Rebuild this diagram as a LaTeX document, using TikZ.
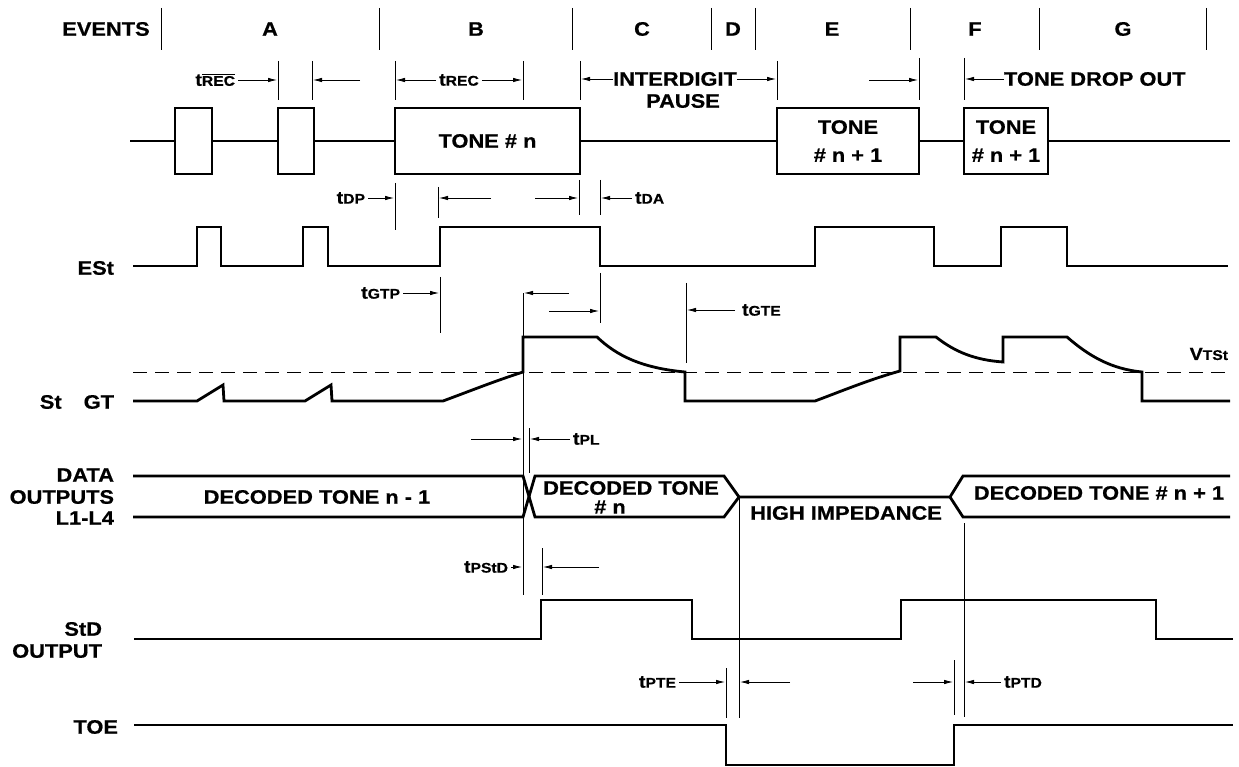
\documentclass[tikz,border=0pt]{standalone}
\usepackage{fontspec}
\newfontfamily\diag{Liberation Sans}[FakeStretch=1.12,FakeBold=0.6]
\usetikzlibrary{arrows.meta}

\begin{document}
\begin{tikzpicture}[
    x=1pt, y=-1pt,
    every node/.style={
        inner sep=0pt,
        outer sep=0pt,
    },
    big/.style={
        font=\diag\bfseries\fontsize{19.5}{24}\selectfont,
        align=center,
    },
    small/.style={
        font=\diag\bfseries\fontsize{17.5}{18}\selectfont,
        outer sep=3pt,
    },
    tonebox/.style={
        draw,
        line width=2.6pt,
        minimum height=66pt,
        big,
    },
    signal/.style={
        line width=2.8pt,
        line join=miter,
    },
    tick/.style={
        line width=0.8pt,
    },
    dim/.style={
        line width=0.8pt,
        -{Latex[length=9pt,width=4.5pt]},
    },
    level/.style={
        line width=1pt,
        dash pattern=on 14pt off 8pt,
    },
]
    \useasboundingbox (0,0) rectangle (1239,767);
    % ~~~ helpers ~~~~~~~~~~~~~~~~~~~~~~~~~~~~~~~~~~~~~~~~~~~~~~~~~
    \newcommand\tsub[1]{t{\fontsize{14}{14}\selectfont #1}}

    % ~~~ events row ~~~~~~~~~~~~~~~~~~~~~~~~~~~~~~~~~~~~~~~~~~~~~~
    \foreach \x/\t [count=\i] in {106/EVENTS,270/A,476/B,642/C,733/D,832/E,975/F,1123/G}{
        \node[big] (ev\i) at (\x,29) {\t};
    }
    \foreach \x in {161,379,572,711,755,910,1039,1206}{
        \draw[tick] (\x,8) -- (\x,50);
    }

    % ~~~ signal names ~~~~~~~~~~~~~~~~~~~~~~~~~~~~~~~~~~~~~~~~~~~~
    \foreach \y/\t [count=\i] in {268/ESt,402/St\hspace{22pt}GT,475/DATA,497/OUTPUTS,518/L1-L4}{
        \node[big,anchor=east] (name\i) at (114,\y) {\t};
    }
    \node[big,anchor=east] (std1) at (102,629) {StD};
    \node[big,anchor=east] (std2) at (102,651) {OUTPUT};
    \node[big,anchor=east] (toe)  at (118,727) {TOE};

    % ~~~ tone input ~~~~~~~~~~~~~~~~~~~~~~~~~~~~~~~~~~~~~~~~~~~~~~
    \node[tonebox,minimum width=37pt]  (ta1) at (193.5,141) {};
    \node[tonebox,minimum width=36pt]  (ta2) at (296,141) {};
    \node[tonebox,minimum width=185pt] (tn)  at (487.5,141) {TONE \# n};
    \node[tonebox,minimum width=142pt,font=\diag\bfseries\fontsize{19.5}{28}\selectfont]
        (te1) at (848,141) {TONE\\\# n + 1};
    \node[tonebox,minimum width=84pt,font=\diag\bfseries\fontsize{19.5}{28}\selectfont]
        (te2) at (1006,141) {TONE\\\# n + 1};
    \draw[signal] (130,141) -- (ta1.west) (ta1.east) -- (ta2.west)
        (ta2.east) -- (tn.west) (tn.east) -- (te1.west)
        (te1.east) -- (te2.west) (te2.east) -- (1230,141);

    % tREC / interdigit / drop out
    \foreach \x in {278,312,395,523,580,777}{
        \draw[tick] (\x,61) -- (\x,100);
    }
    \foreach \x in {919,964}{
        \draw[tick] (\x,58) -- (\x,100);
    }
    \node[small,anchor=east] (trb) at (238,80) {\tsub{$\overline{\hbox{REC}}$}};
    \draw[dim] (trb.east) -- (277,80);
    \draw[dim] (360,80) -- (313,80);
    \node[small] (trec) at (459,80) {\tsub{REC}};
    \draw[dim] (trec.west) -- (396,80);
    \draw[dim] (trec.east) -- (522,80);
    \node[big] (idp) at (675,79) {INTERDIGIT};
    \node[big] (pause) at (683,101) {PAUSE};
    \draw[dim] (idp.west) -- (581,79);
    \draw[dim] (idp.east) -- (776,79);
    \draw[dim] (869,80) -- (918,80);
    \node[big,anchor=west] (tdo) at (1004,79) {TONE DROP OUT};
    \draw[dim] (tdo.west) -- (965,79);

    % ~~~ ESt ~~~~~~~~~~~~~~~~~~~~~~~~~~~~~~~~~~~~~~~~~~~~~~~~~~~~~
    \draw[signal] (133,266)
        \foreach \a/\b in {197/221,303/328,440/600,815/934,1001/1067}{
            -- (\a,266) -- (\a,227) -- (\b,227) -- (\b,266)
        } -- (1228,266);
    \draw[tick] (395,183) -- (395,230);
    \draw[tick] (438,187) -- (438,218);
    \draw[tick] (579,180) -- (579,215);
    \draw[tick] (600,180) -- (600,215);
    \node[small,anchor=east] (tdp) at (368,198) {\tsub{DP}};
    \draw[dim] (tdp.east) -- (394,198);
    \draw[dim] (491,198) -- (439,198);
    \draw[dim] (535,198) -- (578,198);
    \node[small,anchor=west] (tda) at (632,198) {\tsub{DA}};
    \draw[dim] (tda.west) -- (601,198);

    % ~~~ St GT ~~~~~~~~~~~~~~~~~~~~~~~~~~~~~~~~~~~~~~~~~~~~~~~~~~~
    \draw[tick] (440,277) -- (440,333);
    \draw[tick] (523,293) -- (523,595);
    \draw[tick] (600,273) -- (600,323);
    \draw[tick] (686,283) -- (686,363);
    \node[small,anchor=east] (tgtp) at (403,293) {\tsub{GTP}};
    \draw[dim] (tgtp.east) -- (439,293);
    \draw[dim] (569,293) -- (524,293);
    \draw[dim] (549,311) -- (599,311);
    \node[small,anchor=west] (tgte) at (739,310) {\tsub{GTE}};
    \draw[dim] ([xshift=-4pt]tgte.west) -- (687,310);

    \draw[level] (133,372) -- (1230,372);
    \node[small,anchor=east] (vtst) at (1231,354)
        {V{\fontsize{14}{14}\selectfont TSt}};
    \draw[signal] (133,401) -- (197,401) -- (223,385) -- (224,401)
        -- (305,401) -- (331,385) -- (332,401) -- (443,401)
        .. controls (470,391) and (495,381) .. (523,372) -- (523,337)
        -- (597,337) .. controls (617,356) and (642,368) .. (685,372)
        -- (685,401) -- (815,401)
        .. controls (842,391) and (868,380) .. (900,371) -- (900,337)
        -- (936,337) .. controls (955,352) and (975,360) .. (1003,362)
        -- (1003,337) -- (1067,337)
        .. controls (1090,357) and (1112,369) .. (1142,372)
        -- (1142,401) -- (1230,401);

    % ~~~ data outputs ~~~~~~~~~~~~~~~~~~~~~~~~~~~~~~~~~~~~~~~~~~~~
    \draw[tick] (529,428) -- (529,473);
    \draw[dim] (471,439) -- (522,439);
    \node[small,anchor=west] (tpl) at (570,439) {\tsub{PL}};
    \draw[dim] (tpl.west) -- (530,439);

    \draw[signal] (133,476) -- (523,476) -- (535,517) -- (724,517) -- (739,497)
        -- (950,497) -- (963,476) -- (1230,476);
    \draw[signal] (133,517) -- (523,517) -- (535,476) -- (724,476) -- (739,497);
    \draw[signal] (950,497) -- (963,517) -- (1230,517);
    \node[big] (dtm) at (317,497) {DECODED TONE n - 1};
    \node[big] (dtn) at (631,488) {DECODED TONE};
    \node[big] (dtn2) at (610,507) {\# n};
    \node[big] (hiz) at (846,513) {HIGH IMPEDANCE};
    \node[big] (dtp) at (1099,493) {DECODED TONE \# n + 1};

    % ~~~ StD output ~~~~~~~~~~~~~~~~~~~~~~~~~~~~~~~~~~~~~~~~~~~~~~
    \draw[tick] (542,548) -- (542,595);
    \node[small,anchor=east] (tpstd) at (511,567) {\tsub{PStD}};
    \draw[dim] (tpstd.east) -- (522,567);
    \draw[dim] (599,567) -- (543,567);
    \draw[signal] (134,639)
        \foreach \a/\b in {541/692,901/1156}{
            -- (\a,639) -- (\a,600) -- (\b,600) -- (\b,639)
        } -- (1233,639);

    % ~~~ TOE ~~~~~~~~~~~~~~~~~~~~~~~~~~~~~~~~~~~~~~~~~~~~~~~~~~~~~
    \draw[tick] (739,497) -- (739,718);
    \draw[tick] (964,523) -- (964,717);
    \draw[tick] (726,668) -- (726,718);
    \draw[tick] (954,660) -- (954,715);
    \node[small,anchor=east] (tpte) at (679,682) {\tsub{PTE}};
    \draw[dim] (tpte.east) -- (725,682);
    \draw[dim] (790,682) -- (740,682);
    \draw[dim] (913,682) -- (953,682);
    \node[small,anchor=west] (tptd) at (1001,682) {\tsub{PTD}};
    \draw[dim] (tptd.west) -- (965,682);
    \draw[signal] (134,725) -- (726,725) -- (726,765) -- (954,765) -- (954,725) -- (1233,725);
\end{tikzpicture}
\end{document}
